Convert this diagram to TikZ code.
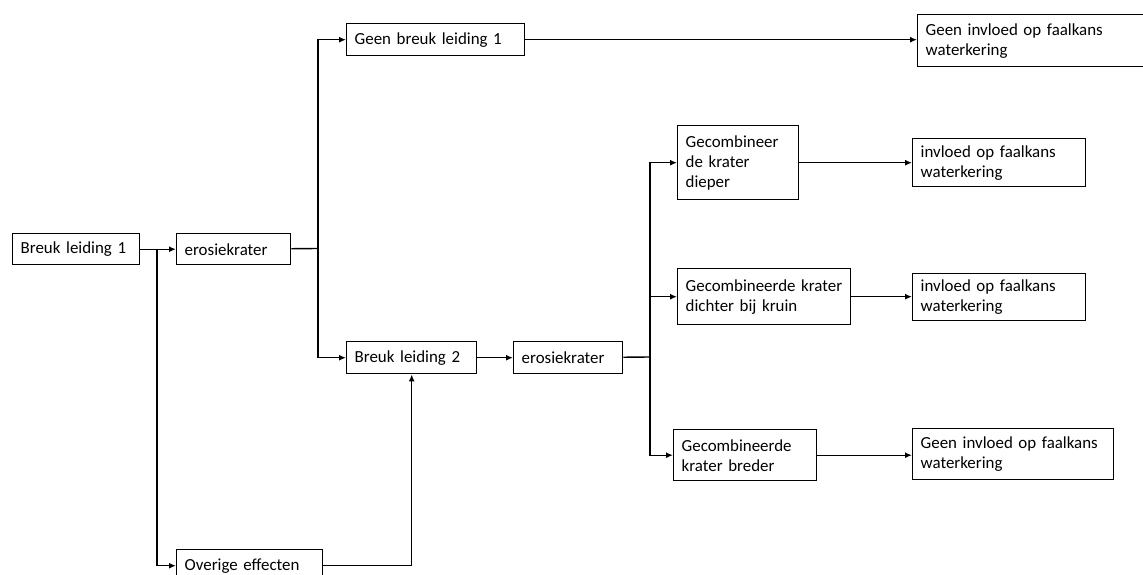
\documentclass[tikz,border=0pt]{standalone}
\usepackage{fontspec}
\setmainfont{Carlito}
\usetikzlibrary{arrows.meta}
\tikzset{>={Latex[length=7pt,width=6pt]}}
\tikzstyle{blok}=[
	 rectangle, draw, line width=1.4pt,
	 anchor=north west, align=left,
	 inner xsep=8pt, inner ysep=0pt,
	 font=\fontsize{16.9}{20}\selectfont
    ]
\newcommand{\tak}[2]{\draw[->] (#1) |- (#2.west)}

\begin{document}
\begin{tikzpicture}[x=1pt,y=-1pt,line width=1.4pt]
\useasboundingbox (0,0) rectangle (1143,575);

\node[blok,text width=111pt,minimum height=31pt] (B1) at (12,233) {Breuk leiding 1};
\node[blok,text width=98pt,minimum height=31pt] (E1) at (176,233) {erosiekrater};
\node[blok,text width=162pt,minimum height=32pt] (GB) at (346,23) {Geen breuk leiding 1};
\node[blok,text width=214pt,minimum height=52pt] (GI1) at (917,14) {Geen invloed op faalkans\\waterkering};
\node[blok,text width=114pt,minimum height=32pt] (B2) at (346,341) {Breuk leiding 2};
\node[blok,text width=93pt,minimum height=32pt] (E2) at (513,341) {erosiekrater};
\node[blok,text width=130pt,minimum height=32pt] (OV) at (176,549) {Overige effecten};

\node[blok,text width=105pt,minimum height=74pt] (C1) at (677,125) {Gecombineer\\de krater\\dieper};
\node[blok,text width=157pt,minimum height=56pt] (C2) at (677,268) {Gecombineerde krater\\dichter bij kruin};
\node[blok,text width=127pt,minimum height=51pt] (C3) at (673,429) {Gecombineerde\\krater breder};

\node[blok,text width=157pt,minimum height=48pt] (I1) at (912,138) {invloed op faalkans\\waterkering};
\node[blok,text width=157pt,minimum height=47pt] (I2) at (912,273) {invloed op faalkans\\waterkering};
\node[blok,text width=185pt,minimum height=51pt] (GI3) at (912,428) {Geen invloed op faalkans\\waterkering};

\coordinate (J1) at (157,248.5);
\coordinate (J2) at (318,248.5);
\coordinate (J3) at (650,357);

\draw[->] (B1) -- (E1);
\tak{J1}{OV};
\draw (E1) -- (J2);
\tak{J2}{GB};
\tak{J2}{B2};
\draw[->] (OV) -| (B2);
\draw[->] (B2) -- (E2);
\draw (E2) -- (J3);
\tak{J3}{C1};
\tak{J3}{C2};
\tak{J3}{C3};

\draw[->] (GB) -- (GB -| GI1.west);
\draw[->] (C1) -- (I1);
\draw[->] (C2) -- (C2 -| I2.west);
\draw[->] (C3) -- (C3 -| GI3.west);

\end{tikzpicture}
\end{document}
